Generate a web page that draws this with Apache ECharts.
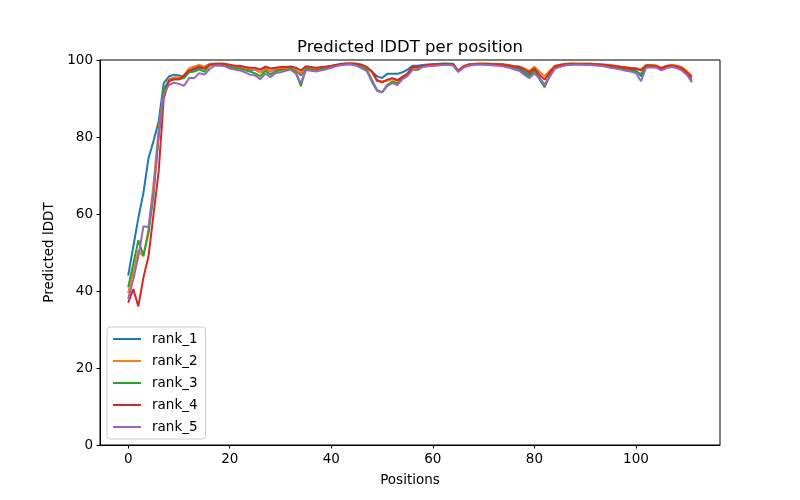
<!DOCTYPE html>
<html>
<head>
<meta charset="utf-8">
<script src="https://cdn.jsdelivr.net/npm/echarts@6/dist/echarts.min.js"></script>
<style>html,body{margin:0;padding:0;background:#fff}#c{width:800px;height:500px}</style>
</head>
<body>
<div id="c"></div>
<script>
const seriesNames = ['rank_1', 'rank_2', 'rank_3', 'rank_4', 'rank_5'];
const xTicks = [0, 20, 40, 60, 80, 100];
const yTicks = [0, 20, 40, 60, 80, 100];

const rank_1 = [
  44, 51.5, 59, 65.5, 74.5, 79, 84, 94,
  95.7, 96.2, 96, 95.7, 97, 97.5, 98, 97.8, 98.8,
  98.9, 98.9, 98.8, 98.4, 98.2, 98.1, 97.8, 97.5, 97.5, 96.8, 97.8, 97, 97.6, 97.8, 97.8, 98, 97.5,
  96,
  98, 97.8, 97.6, 97.8, 98, 98.3, 98.6, 98.9, 99, 99, 98.9, 98.6,
  98, 97, 95.8, 95.3, 96.4, 96.4, 96.4, 96.8, 97.5, 98.5, 98.5, 98.7, 98.8, 98.9, 99, 99, 99, 99,
  97.1, 98.2, 98.7, 98.8, 98.9, 98.9, 98.9, 98.8, 98.8, 98.7, 98.4, 98.1, 97.9, 97, 96.2, 97.5, 95.5, 93.4, 96, 98, 98.5, 98.8, 98.9, 98.9, 98.9, 98.9, 98.9,
  98.8, 98.7, 98.6, 98.4, 98.2, 98, 97.8, 97.6, 97.3, 95.8, 98.3, 98.4, 98.3, 97.6, 98.2, 98.5, 98.3, 97.8, 96.6, 94.8
];
const rank_2 = [
  39.5, 45, 50.5, 49, 56, 68, 82, 92,
  95, 95.5, 95.5, 96, 97.9, 98.3, 98.7, 98.3, 99,
  99, 99.1, 99, 98.6, 98.3, 98.3, 98, 97.8, 97.6, 96.8, 98, 97, 97.8, 98, 97.9, 98, 97.6,
  96.5,
  98.2, 98, 97.8, 98, 98.2, 98.4, 98.7, 98.9, 99, 99.1, 99, 98.7,
  98, 96.8, 94.5, 94.5, 94.6, 95, 94.6, 95.3, 96.2, 98, 98, 98.4, 98.6, 98.7, 98.8, 98.9, 98.9, 98.8,
  97.3, 98.4, 98.9, 99, 99.1, 99.1, 99, 99, 99, 98.9, 98.7, 98.5, 98.4, 97.8, 97.2, 98.3, 97, 95.8, 97.2, 98.5, 98.8, 99, 99.1, 99.1, 99, 99, 99,
  99, 98.9, 98.8, 98.7, 98.5, 98.3, 98.2, 98, 97.9, 97.6, 98.7, 98.7, 98.6, 98, 98.5, 98.8, 98.6, 98.2, 97.2, 95.8
];
const rank_3 = [
  41, 47, 53.2, 49.2, 55, 65, 80.5, 92.5,
  94.4, 95, 95, 95.3, 96.8, 97, 97.6, 97, 98.5,
  98.8, 98.9, 98.7, 98.2, 97.9, 97.8, 97.3, 97, 96.5, 95.8, 97.2, 96.2, 97, 97.4, 97.5, 97.8, 97,
  93.2,
  97.8, 97.6, 97.3, 97.6, 97.8, 98.1, 98.5, 98.8, 98.9, 98.9, 98.7, 98.2,
  97.5, 94.8, 92.2, 91.6, 93.5, 94.4, 94, 95.2, 96, 97.5, 97.4, 98.2, 98.5, 98.6, 98.7, 98.8, 98.8, 98.7,
  97, 98.1, 98.6, 98.8, 98.9, 98.9, 98.8, 98.7, 98.7, 98.5, 98.2, 97.8, 97.5, 96.6, 95.8, 97.2, 95, 92.9, 95.8, 97.9, 98.4, 98.7, 98.8, 98.9, 98.9, 98.8, 98.8,
  98.7, 98.6, 98.4, 98.2, 98, 97.8, 97.5, 97.3, 97, 96.4, 98.2, 98.3, 98.2, 97.5, 98.1, 98.4, 98.2, 97.6, 96.3, 94.2
];
const rank_4 = [
  37, 40.5, 36, 43.5, 49, 60, 71, 90,
  94.6, 95, 95, 96, 97.3, 97.8, 98.3, 97.8, 98.8,
  99, 99, 99, 98.8, 98.5, 98.5, 98.2, 98, 98, 97.5, 98.3, 97.8, 98, 98.2, 98.2, 98.3, 98,
  97.3,
  98.4, 98.2, 98, 98.2, 98.3, 98.5, 98.8, 99, 99.1, 99.1, 99, 98.8,
  98.2, 97, 94.8, 94.2, 94.9, 95.3, 94.8, 95.6, 96.5, 98.2, 98.2, 98.5, 98.7, 98.8, 98.9, 99, 99, 98.9,
  97.2, 98.3, 98.8, 98.9, 99, 99, 99, 98.9, 98.9, 98.8, 98.6, 98.3, 98.2, 97.6, 96.8, 97.8, 96.2, 94.9, 96.8, 98.3, 98.7, 98.9, 99, 99, 99, 99, 99,
  98.9, 98.8, 98.7, 98.6, 98.4, 98.2, 98, 97.9, 97.7, 97.3, 98.6, 98.6, 98.5, 97.8, 98.4, 98.6, 98.4, 97.9, 96.8, 95.5
];
const rank_5 = [
  38, 43, 49, 56.8, 56.6, 66, 80, 91,
  93.5, 94.1, 93.8, 93.3, 95.3, 95.3, 96.6, 96.2, 97.6,
  98.5, 98.6, 98.4, 97.8, 97.5, 97.3, 96.8, 96.2, 96, 95, 96.5, 95.5, 96.6, 96.8, 97.2, 97.5, 96.5,
  94,
  97.4, 97.2, 97, 97.3, 97.6, 98, 98.4, 98.7, 98.8, 98.8, 98.5, 97.8,
  97.1, 94.3, 92, 91.6, 93.2, 94, 93.5, 95, 95.8, 97.5, 97.6, 98.2, 98.4, 98.5, 98.6, 98.7, 98.7, 98.6,
  96.9, 98, 98.5, 98.7, 98.8, 98.8, 98.7, 98.6, 98.5, 98.3, 98, 97.6, 97.2, 96.2, 95.3, 96.5, 95.3, 93.6, 95.6, 97.7, 98.2, 98.6, 98.7, 98.8, 98.8, 98.7, 98.7,
  98.6, 98.5, 98.3, 98, 97.8, 97.5, 97.2, 97, 96.6, 94.5, 98, 98.1, 98, 97.3, 97.9, 98.2, 97.9, 97.3, 96.2, 94.6
];

const allSeries = [rank_1, rank_2, rank_3, rank_4, rank_5];
const colors = ['#1f77b4', '#ff7f0e', '#2ca02c', '#d62728', '#9467bd'];
const FONT = 'DejaVu Sans';

const chart = echarts.init(document.getElementById('c'), null, {renderer: 'canvas'});
const nPos = rank_1.length;
const xMin = -0.05 * (nPos - 1), xMax = (nPos - 1) * 1.05;

chart.setOption({
  animation: false,
  backgroundColor: '#fff',
  color: colors,
  textStyle: {fontFamily: FONT},
  title: {
    text: 'Predicted lDDT per position',
    left: 405, top: 34, textAlign: 'center',
    textStyle: {fontFamily: FONT, fontSize: 16.5, fontWeight: 'normal', color: '#000'}
  },
  grid: {left: 100, right: 80, top: 60, bottom: 55, show: true, borderColor: '#000', borderWidth: 1, backgroundColor: 'transparent'},
  legend: {
    orient: 'vertical', left: 107, top: 327,
    data: seriesNames,
    icon: 'path://M0,0H28V2H0Z',
    itemWidth: 28, itemHeight: 14, itemGap: 8,
    padding: [5, 8, 5, 6],
    backgroundColor: 'rgba(255,255,255,0.8)',
    borderColor: '#cccccc', borderWidth: 1, borderRadius: 3,
    textStyle: {fontFamily: FONT, fontSize: 13.5, color: '#000', padding: [0, 0, 0, 6]}
  },
  xAxis: {
    type: 'value', min: xMin, max: xMax,
    name: 'Positions', nameLocation: 'middle', nameGap: 28,
    nameTextStyle: {fontFamily: FONT, fontSize: 13.5, color: '#000'},
    axisLine: {show: true, onZero: false, lineStyle: {color: '#000', width: 1}},
    axisTick: {show: true, length: 3.5, lineStyle: {color: '#000'}, customValues: xTicks},
    axisLabel: {fontFamily: FONT, fontSize: 13.5, color: '#000', margin: 7, customValues: xTicks},
    splitLine: {show: false}
  },
  yAxis: {
    type: 'value', min: 0, max: 100, interval: 20,
    name: 'Predicted lDDT', nameLocation: 'middle', nameGap: 40,
    nameTextStyle: {fontFamily: FONT, fontSize: 13.5, color: '#000'},
    axisLine: {show: true, onZero: false, lineStyle: {color: '#000', width: 1}},
    axisTick: {show: true, length: 3.5, lineStyle: {color: '#000'}, customValues: yTicks},
    axisLabel: {fontFamily: FONT, fontSize: 13.5, color: '#000', margin: 7, customValues: yTicks},
    splitLine: {show: false}
  },
  series: seriesNames.map((name, k) => ({
    name: name, type: 'line', symbol: 'none', showSymbol: false,
    lineStyle: {width: 2, color: colors[k]},
    itemStyle: {color: colors[k]},
    data: allSeries[k].map((v, i) => [i, v])
  }))
});
</script>
</body>
</html>
